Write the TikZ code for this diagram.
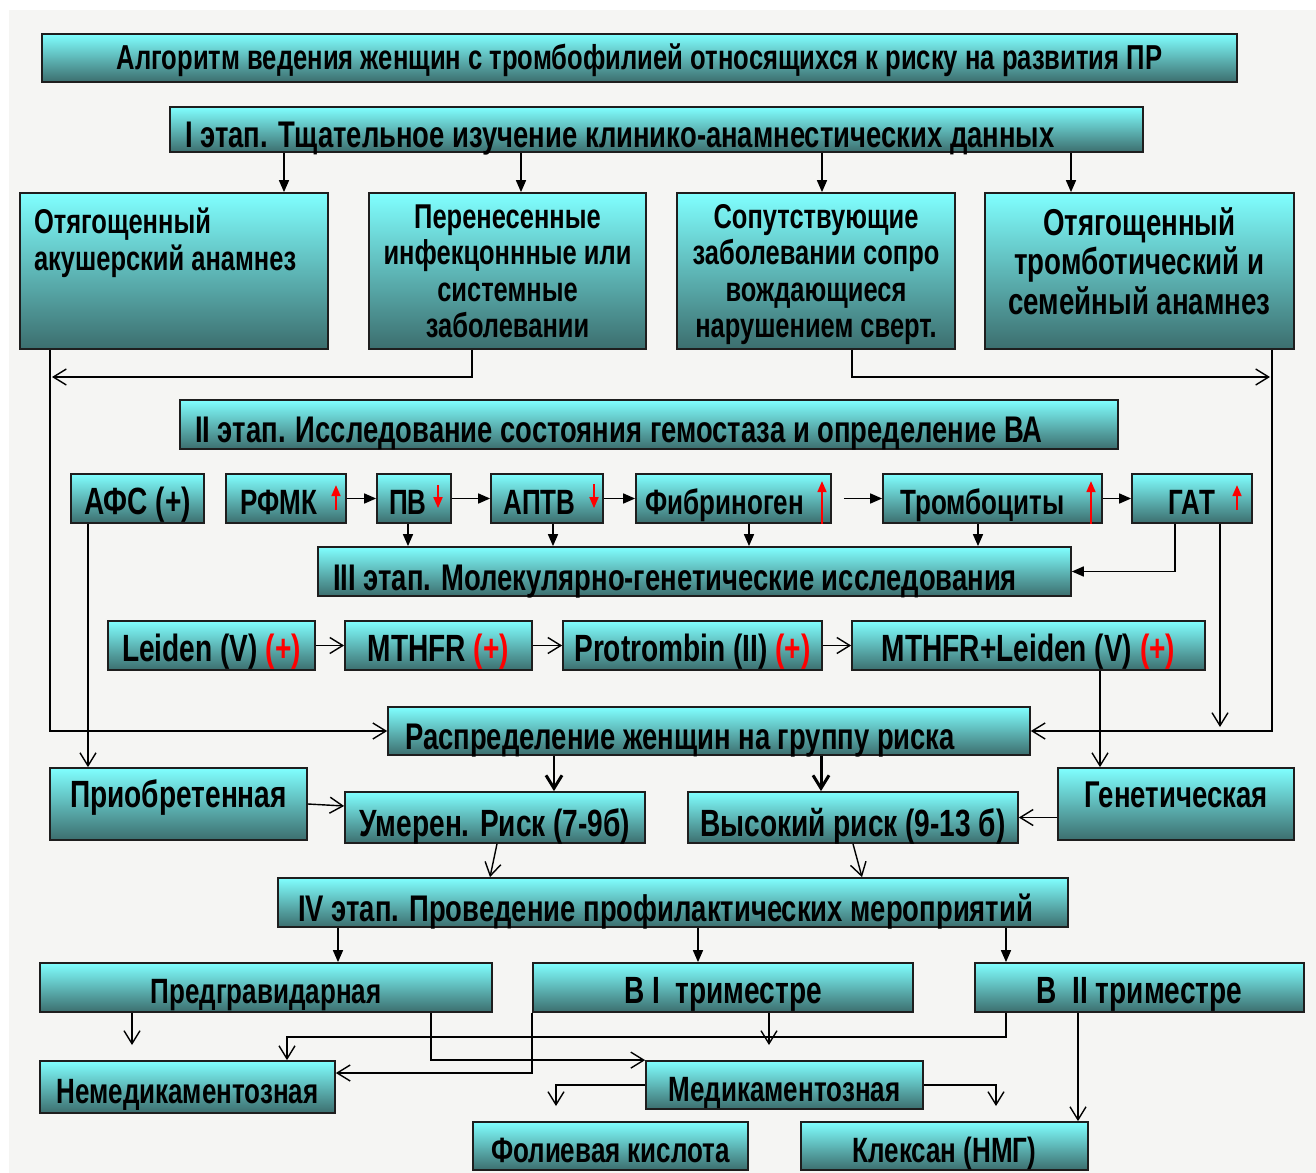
\documentclass[tikz,border=0pt]{standalone}
\usepackage{fontspec}
\newfontfamily\narrowfont[FakeStretch=0.74]{Liberation Sans}
\usetikzlibrary{arrows.meta, calc}
\definecolor{boxtop}{RGB}{128,255,255}
\definecolor{boxbot}{RGB}{60,110,110}
\definecolor{bgfill}{RGB}{245,245,243}
\definecolor{frame}{RGB}{30,30,30}

\begin{document}
\begin{tikzpicture}[
    x=0.02cm, y=-0.02cm,
    box/.style={draw=frame, line width=1pt, top color=boxtop, bottom color=boxbot, inner sep=0pt, align=center, font=\narrowfont\bfseries\fontsize{20}{23}\selectfont},
    cell/.style={box, text height=0.66cm, text depth=0.02cm},
    stage/.style={box, align=flush left, inner xsep=0.3cm, text height=0.76cm, text depth=0.02cm, font=\narrowfont\bfseries\fontsize{21.1}{25}\selectfont},
    cause/.style={box, font=\narrowfont\bfseries\fontsize{19.6}{20.8}\selectfont},
    gene/.style={cell, font=\narrowfont\bfseries\fontsize{21.6}{25}\selectfont},
    arrow/.style={-{Triangle[length=2.4mm, width=2mm]}, line width=0.9pt},
    openarrow/.style={-{Straight Barb[length=2.6mm, width=3.2mm]}, line width=0.8pt},
    thickarrow/.style={-{Straight Barb[length=2.6mm, width=3.2mm]}, line width=1.7pt},
    redarrow/.style={-{Triangle[length=2.2mm, width=1.8mm]}, red, line width=1pt}
]
\useasboundingbox (0,0) rectangle (1316,1173);
\fill[white] (0,0) rectangle (1316,1173);
\fill[bgfill] (9,10) rectangle (1316,1173);

\node[cell, font=\narrowfont\bfseries\fontsize{19.7}{23}\selectfont, text height=0.5cm, minimum width=23.9cm, minimum height=0.96cm] (title) at (639.5,58) {Алгоритм ведения женщин с тромбофилией относящихся к риску на развития ПР};
\node[stage, text width=18.86cm, minimum height=0.9cm] (st1) at (656.5,129.5) {I этап. Тщательное изучение клинико-анамнестических данных};

\node[cause, align=flush left, inner xsep=0.28cm, text width=5.6cm, minimum height=3.12cm, text depth=2.0cm] (anam) at (174,271) {Отягощенный\\акушерский анамнез};
\node[cause, minimum width=5.54cm, minimum height=3.12cm, text depth=-0.06cm] (infect) at (507.5,271) {Перенесенные\\инфекцоннные или\\системные\\заболевании};
\node[cause, minimum width=5.56cm, minimum height=3.12cm, text depth=-0.06cm] (comorb) at (816,271) {Сопутствующие\\заболевании сопро\\вождающиеся\\нарушением сверт.};
\node[cause, font=\narrowfont\bfseries\fontsize{21.3}{22.5}\selectfont, minimum width=6.18cm, minimum height=3.12cm, text depth=0.4cm] (family) at (1139.5,271) {Отягощенный\\тромботический и\\семейный анамнез};

\node[stage, text width=18.16cm, minimum height=0.98cm] (st2) at (649,424.5) {II этап. Исследование состояния гемостаза и определение ВА};

\node[gene, minimum width=2.66cm, minimum height=0.98cm] (afs) at (137.5,498.5) {АФС (+)};
\node[cell, minimum width=2.4cm, minimum height=0.98cm] (rfmk) at (286,498.5) {РФМК\hspace{0.3cm}};
\node[cell, minimum width=1.48cm, minimum height=0.98cm] (pv) at (414,498.5) {ПВ\hspace{0.25cm}};
\node[cell, minimum width=2.24cm, minimum height=0.98cm] (aptv) at (547,498.5) {АПТВ\hspace{0.3cm}};
\node[cell, minimum width=3.9cm, minimum height=0.98cm] (fib) at (733.5,498.5) {Фибриноген\hspace{0.35cm}};
\node[cell, minimum width=4.38cm, minimum height=0.98cm] (trom) at (992.5,498.5) {Тромбоциты\hspace{0.4cm}};
\node[cell, minimum width=2.4cm, minimum height=0.98cm] (gat) at (1192,498.5) {ГАТ};

\node[stage, text width=14.46cm, minimum height=0.98cm] (st3) at (694.5,571.5) {III этап. Молекулярно-генетические исследования};

\node[gene, minimum width=4.14cm, minimum height=0.98cm] (leiden) at (211.5,645.5) {Leiden (V) \textcolor{red}{(+)}};
\node[gene, minimum width=3.74cm, minimum height=0.98cm] (mthfr) at (438.5,645.5) {MTHFR \textcolor{red}{(+)}};
\node[gene, minimum width=5.18cm, minimum height=0.98cm] (protr) at (692.5,645.5) {Protrombin (II) \textcolor{red}{(+)}};
\node[gene, minimum width=7.06cm, minimum height=0.98cm] (combo) at (1028.5,645.5) {MTHFR+Leiden (V) \textcolor{red}{(+)}};

\node[stage, text width=12.16cm, minimum height=0.96cm, inner xsep=0.34cm] (risk) at (709,731) {Распределение женщин на группу риска};

\node[cell, font=\narrowfont\bfseries\fontsize{21.6}{25}\selectfont, text height=0.42cm, text depth=0.3cm, minimum width=5.14cm, minimum height=1.44cm] (acq) at (178.5,804) {Приобретенная};
\node[cell, font=\narrowfont\bfseries\fontsize{21.2}{25}\selectfont, text height=0.42cm, text depth=0.3cm, minimum width=4.72cm, minimum height=1.44cm] (genet) at (1176,804) {Генетическая};
\node[gene, text height=0.76cm, minimum width=6cm, minimum height=1.02cm] (moder) at (495,817.5) {Умерен. Риск (7-9б)};
\node[gene, text height=0.76cm, minimum width=6.6cm, minimum height=1.02cm] (high) at (853,817.5) {Высокий риск (9-13 б)};

\node[stage, text width=15cm, minimum height=0.98cm, inner xsep=0.4cm] (st4) at (673,902.5) {IV этап. Проведение профилактических мероприятий};

\node[cell, minimum width=9.04cm, minimum height=0.98cm] (pregr) at (266,987.5) {Предгравидарная};
\node[gene, minimum width=7.6cm, minimum height=0.98cm] (trim1) at (723,987.5) {В I~~триместре};
\node[gene, minimum width=6.58cm, minimum height=0.98cm] (trim2) at (1139.5,987.5) {В~~II триместре};

\node[cell, minimum width=5.9cm, minimum height=1.04cm] (nodrug) at (187.5,1087) {Немедикаментозная};
\node[cell, minimum width=5.54cm, minimum height=0.96cm] (drug) at (784.5,1085) {Медикаментозная};
\node[cell, minimum width=5.5cm, minimum height=0.96cm] (folic) at (610.5,1146) {Фолиевая кислота};
\node[cell, minimum width=5.74cm, minimum height=0.96cm] (clex) at (944.5,1146) {Клексан (НМГ)};

\coordinate (leftjoin) at (52,377);
\coordinate (rightjoin) at (1270,377);
\coordinate (gatend) at (1220,727);
\coordinate (pregrend) at (132,1045);
\coordinate (trimend) at (769,1045);
\coordinate (folicend) at (556,1106);
\coordinate (clexend) at (996,1106);

\draw[arrow] (st1.south -| 284,0) -- (anam.north -| 284,0);
\draw[arrow] (st1.south -| 521,0) -- (infect.north -| 521,0);
\draw[arrow] (st1.south -| 822,0) -- (comorb.north -| 822,0);
\draw[arrow] (st1.south -| 1071,0) -- (family.north -| 1071,0);

\draw[openarrow] (anam.south -| 50,0) |- (risk.west);
\draw[openarrow] (infect.south -| 472,0) |- (leftjoin);
\draw[openarrow] (comorb.south -| 852,0) |- (rightjoin);
\draw[openarrow] (family.south -| 1272,0) |- (risk.east);

\draw[arrow] (rfmk) -- (pv);
\draw[arrow] (pv) -- (aptv);
\draw[arrow] (aptv) -- (fib);
\draw[arrow] ($(fib.east)+(12,0)$) -- (trom);
\draw[arrow] (trom) -- (gat);

\draw[redarrow] ($(rfmk.north -| 336,0)+(0,37)$) -- ($(rfmk.north -| 336,0)+(0,12)$);
\draw[redarrow] ($(pv.north -| 438,0)+(0,12)$) -- ($(pv.north -| 438,0)+(0,35)$);
\draw[redarrow] ($(aptv.north -| 594,0)+(0,11)$) -- ($(aptv.north -| 594,0)+(0,35)$);
\draw[redarrow] (fib.south -| 822,0) -- ($(fib.north -| 822,0)+(0,8)$);
\draw[redarrow] (trom.south -| 1091,0) -- ($(trom.north -| 1091,0)+(0,8)$);
\draw[redarrow] ($(gat.north -| 1237,0)+(0,37)$) -- ($(gat.north -| 1237,0)+(0,12)$);

\draw[arrow] (pv.south -| 408,0) -- (st3.north -| 408,0);
\draw[arrow] (aptv.south -| 553,0) -- (st3.north -| 553,0);
\draw[arrow] (fib.south -| 749,0) -- (st3.north -| 749,0);
\draw[arrow] (trom.south -| 978,0) -- (st3.north -| 978,0);
\draw[arrow] (gat.south -| 1175,0) |- (st3.east);
\draw[openarrow] (gat.south -| 1220,0) -- (gatend);
\draw[openarrow] (afs.south -| 88,0) -- (acq.north -| 88,0);

\draw[openarrow] (leiden) -- (mthfr);
\draw[openarrow] (mthfr) -- (protr);
\draw[openarrow] (protr) -- (combo);
\draw[openarrow] (combo.south -| 1100,0) -- (genet.north -| 1100,0);

\draw[thickarrow] (risk.south -| 554,0) -- (moder.north -| 554,0);
\draw[thickarrow] (risk.south -| 821,0) -- (high.north -| 821,0);
\draw[openarrow] (acq.east) -- (moder.west |- 0,806);
\draw[openarrow] (genet.west |- high.east) -- (high.east);
\draw[openarrow] (moder.south -| 497,0) -- (st4.north -| 490,0);
\draw[openarrow] (high.south -| 853,0) -- (st4.north -| 862,0);

\draw[arrow] (st4.south -| 338,0) -- (pregr.north -| 338,0);
\draw[arrow] (st4.south -| 698,0) -- (trim1.north -| 698,0);
\draw[arrow] (st4.south -| 1006,0) -- (trim2.north -| 1006,0);

\draw[openarrow] (pregr.south -| 132,0) -- (pregrend);
\draw[openarrow] (pregr.south -| 431,0) |- (drug.north west);
\draw[openarrow] (trim1.south west) |- (nodrug.east |- 0,1073);
\draw[openarrow] (trim1.south -| 769,0) -- (trimend);
\draw[openarrow] (trim2.south -| 1006,0) |- (287,1037) -- (nodrug.north -| 287,0);
\draw[openarrow] (trim2.south -| 1078,0) -- (clex.north -| 1078,0);
\draw[openarrow] (drug.west) -| (folicend);
\draw[openarrow] (drug.east) -| (clexend);
\end{tikzpicture}
\end{document}
